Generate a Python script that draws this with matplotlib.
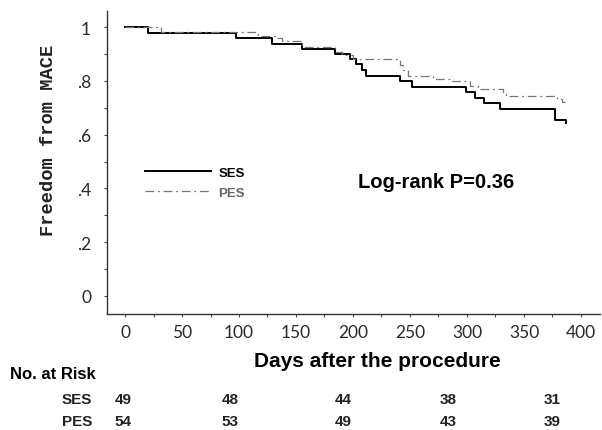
import matplotlib
matplotlib.use("Agg")
import matplotlib.pyplot as plt
from matplotlib.ticker import MultipleLocator, FixedLocator, FixedFormatter

# ---- data ----
ses_days = [0, 20, 97, 129, 155, 184, 197, 203, 208, 211, 241, 252, 299, 307, 315, 329, 377, 387]
ses_surv = [1.0, 0.979, 0.961, 0.939, 0.920, 0.900, 0.881, 0.862, 0.840, 0.819, 0.800, 0.778, 0.760, 0.737, 0.718, 0.697, 0.656, 0.645]

pes_days = [0, 32, 117, 133, 138, 155, 184, 190, 200, 241, 244, 248, 270, 287, 303, 310, 332, 334, 379, 383, 386]
pes_surv = [1.0, 0.982, 0.968, 0.961, 0.950, 0.925, 0.908, 0.896, 0.881, 0.860, 0.840, 0.820, 0.807, 0.800, 0.782, 0.770, 0.751, 0.742, 0.732, 0.720, 0.720]

y_ticks = [0, 0.2, 0.4, 0.6, 0.8, 1.0]
y_tick_labels = ["0", ".2", ".4", ".6", ".8", "1"]
x_ticks = [0, 50, 100, 150, 200, 250, 300, 350, 400]

risk_groups = ["SES", "PES"]
risk_ses = [49, 48, 44, 38, 31]
risk_pes = [54, 53, 49, 43, 39]

# ---- figure ----
fig = plt.figure(figsize=(6.02, 4.31), dpi=100)
ax = fig.add_axes([107/602, 1-315/431, (600-107)/602, (315-12)/431])

ax.step(ses_days, ses_surv, where="post", color="black", lw=1.4, label="SES")
ax.step(pes_days, pes_surv, where="post", color="#777777", lw=0.9,
        linestyle=(0, (7, 3, 1.5, 3)), label="PES")

ax.set_xlim(-15.8, 416.7)
ax.set_ylim(-0.067, 1.06)

for s in ["top", "right"]:
    ax.spines[s].set_visible(False)
for s in ["left", "bottom"]:
    ax.spines[s].set_color("#333333")
    ax.spines[s].set_linewidth(1.0)

ax.xaxis.set_major_locator(FixedLocator(x_ticks))
ax.xaxis.set_minor_locator(MultipleLocator(25))
ax.yaxis.set_major_locator(FixedLocator(y_ticks))
ax.yaxis.set_major_formatter(FixedFormatter(y_tick_labels))
ax.yaxis.set_minor_locator(MultipleLocator(0.1))
ax.tick_params(which="both", direction="out", length=2.5, width=0.8, color="#444444")
ax.tick_params(axis="x", which="major", pad=5)
ax.tick_params(axis="y", which="major", pad=9)
for lab in ax.get_xticklabels() + ax.get_yticklabels():
    lab.set_fontfamily("Lato")
    lab.set_fontsize(12.5)
    lab.set_color("#2a2a2a")

leg = ax.legend(loc="upper left", bbox_to_anchor=(0.077, 0.487), frameon=False,
                handlelength=5.0, handletextpad=0.55, labelspacing=0.6,
                borderaxespad=0, borderpad=0,
                prop=dict(family="Liberation Sans", weight="bold", size=9.5))
leg.get_texts()[1].set_color("#666666")

ax.text(0.509, 0.436, "Log-rank P=0.36", transform=ax.transAxes, ha="left", va="center",
        family="Liberation Sans", weight="bold", size=14.5)

fig.text(49/602, 1-140/431, "Freedom from MACE", rotation=90, ha="center", va="center",
         family="Liberation Mono", weight="bold", size=13.5, color="#222222")

fig.text(377/602, 1-362/431, "Days after the procedure", ha="center", va="center",
         family="Liberation Sans", weight="bold", size=15)

# ---- number at risk table ----
fig.text(10/602, 1-375/431, "No. at Risk", ha="left", va="center",
         family="Liberation Sans", weight="bold", size=12)
risk_x = [123, 230, 343, 448, 552]
row_y = [400, 422]
for name, counts, yy in zip(risk_groups, [risk_ses, risk_pes], row_y):
    fig.text(92/602, 1-yy/431, name, ha="right", va="center",
             family="Liberation Sans", weight="bold", size=11, color="#222222")
    for xx, c in zip(risk_x, counts):
        fig.text(xx/602, 1-yy/431, str(c), ha="center", va="center",
                 family="Liberation Sans", weight="bold", size=11, color="#222222")

fig.savefig("out.png", dpi=100)
